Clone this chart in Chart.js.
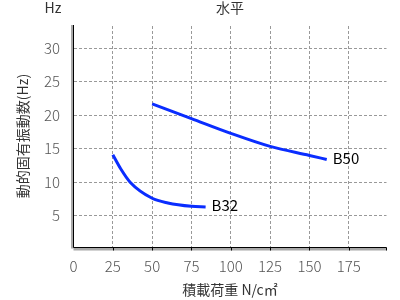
<!DOCTYPE html>
<html>
<head>
<meta charset="utf-8">
<script src="https://cdn.jsdelivr.net/npm/chart.js@4"></script>
<style>
  html, body { margin: 0; padding: 0; background: #fff; }
  #wrap { width: 400px; height: 300px; }
</style>
</head>
<body>
<div id="wrap"><canvas id="myChart" width="400" height="300"></canvas></div>
<script>
// データ
const seriesNames = ["B32", "B50"];
const b32Load = [25, 30, 36, 50, 60, 75, 84];
const b32Freq = [14.1, 12.0, 10.0, 7.6, 6.9, 6.4, 6.3];
const b50Load = [50, 75, 100, 125, 150, 161];
const b50Freq = [21.7, 19.5, 17.3, 15.35, 14.0, 13.4];
const xTicks = [0, 25, 50, 75, 100, 125, 150, 175];
const yTicks = [5, 10, 15, 20, 25, 30];

const FONT = "'Noto Sans CJK JP', 'Noto Sans', sans-serif";
const BLUE = "rgb(10,45,255)";

function toPoints(xs, ys) {
  return xs.map((x, i) => ({ x: x, y: ys[i] }));
}

// 軸まわりの装飾と文字
const decoPlugin = {
  id: "deco",
  afterDraw(chart) {
    const ctx = chart.ctx;
    const a = chart.chartArea;
    const xs = chart.scales.x;
    ctx.save();
    // 灰色の帯
    ctx.fillStyle = "#a8a8a8";
    ctx.fillRect(a.left - 2.5, a.top - 1, 2.5, a.bottom - a.top + 2);
    ctx.fillRect(a.left, a.bottom + 0.5, a.right - a.left, 2.5);
    // 黒い軸線
    ctx.strokeStyle = "#000";
    ctx.lineWidth = 1;
    ctx.beginPath();
    ctx.moveTo(a.left, a.top - 1);
    ctx.lineTo(a.left, a.bottom);
    ctx.lineTo(a.right, a.bottom);
    ctx.moveTo(a.right, a.bottom);
    ctx.lineTo(a.right, a.bottom + 3);
    xTicks.forEach(v => {
      if (v === 0) return;
      const px = Math.round(xs.getPixelForValue(v)) + 0.5;
      ctx.moveTo(px, a.bottom);
      ctx.lineTo(px, a.bottom + 3);
    });
    ctx.stroke();

    // 系列名
    ctx.fillStyle = "#000";
    ctx.font = "15px " + FONT;
    ctx.textAlign = "left";
    ctx.textBaseline = "middle";
    chart.data.datasets.forEach((ds, i) => {
      const meta = chart.getDatasetMeta(i);
      const last = meta.data[meta.data.length - 1];
      ctx.fillText(seriesNames[i], last.x + 6, last.y - 1.5);
    });

    // 軸タイトル
    ctx.fillStyle = "#333";
    ctx.font = "14px " + FONT;
    ctx.textAlign = "center";
    ctx.fillText("Hz", 53, 8);
    ctx.fillText("水平", 230, 8);
    ctx.fillText("積載荷重 N/c㎡", 230, 290);
    ctx.translate(23, 136);
    ctx.rotate(-Math.PI / 2);
    ctx.fillText("動的固有振動数(Hz)", 0, 0);
    ctx.restore();
  }
};

const ctx = document.getElementById("myChart");

new Chart(ctx, {
  type: "line",
  data: {
    datasets: [
      {
        label: seriesNames[0],
        data: toPoints(b32Load, b32Freq),
        borderColor: BLUE,
        borderWidth: 3,
        pointRadius: 0,
        cubicInterpolationMode: "monotone",
        fill: false
      },
      {
        label: seriesNames[1],
        data: toPoints(b50Load, b50Freq),
        borderColor: BLUE,
        borderWidth: 3,
        pointRadius: 0,
        cubicInterpolationMode: "monotone",
        fill: false
      }
    ]
  },
  options: {
    responsive: false,
    animation: false,
    layout: { padding: { top: 26, right: 13.5, left: 0, bottom: 0 } },
    plugins: {
      legend: { display: false },
      tooltip: { enabled: false }
    },
    scales: {
      x: {
        type: "linear",
        min: 0,
        max: 199,
        afterBuildTicks: s => { s.ticks = xTicks.map(v => ({ value: v })); },
        afterFit: s => { s.height = 52.5; },
        grid: { color: "#999", lineWidth: 1, drawTicks: false },
        border: { display: false, dash: [3, 2] },
        ticks: {
          padding: 10,
          color: "#555",
          font: { family: FONT, size: 15, weight: 300 },
          maxRotation: 0
        }
      },
      y: {
        type: "linear",
        min: 0.25,
        max: 33.33,
        afterBuildTicks: s => { s.ticks = yTicks.map(v => ({ value: v })); },
        afterFit: s => { s.width = 73.5; },
        grid: { color: "#999", lineWidth: 1, drawTicks: false },
        border: { display: false, dash: [3, 2] },
        ticks: {
          padding: 13.5,
          color: "#555",
          font: { family: FONT, size: 15, weight: 300 }
        }
      }
    }
  },
  plugins: [decoPlugin]
});
</script>
</body>
</html>
